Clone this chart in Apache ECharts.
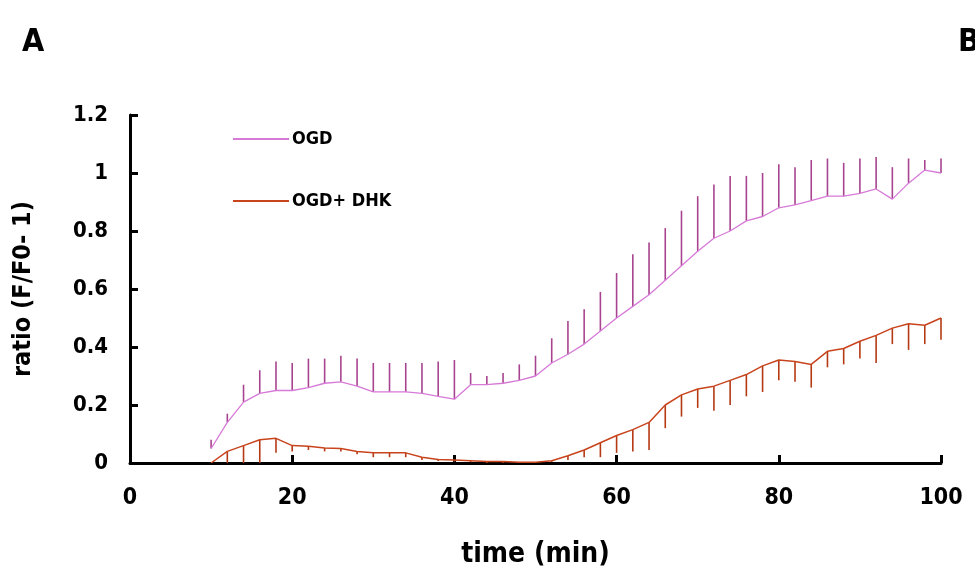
<!DOCTYPE html>
<html>
<head>
<meta charset="utf-8">
<script src="https://cdn.jsdelivr.net/npm/echarts@6/dist/echarts.min.js"></script>
<style>
html, body { margin: 0; padding: 0; background: #fff; }
#chartmain { width: 975px; height: 572px; }
</style>
</head>
<body>
<div id="chartmain"></div>
<script>
// time points (min)
var times = [10, 12, 14, 16, 18, 20, 22, 24, 26, 28, 30, 32, 34, 36, 38, 40, 42, 44, 46, 48, 50, 52, 54,
    56, 58, 60, 62, 64, 66, 68, 70, 72, 74, 76, 78, 80, 82, 84, 86, 88, 90, 92, 94, 96, 98, 100];
var ogdMean = [0.05, 0.14, 0.21, 0.24, 0.25, 0.25, 0.26, 0.275, 0.28, 0.265, 0.245, 0.245, 0.245, 0.24, 0.23, 0.22,
    0.27, 0.27, 0.275, 0.285, 0.30, 0.345, 0.375, 0.41, 0.455, 0.50, 0.54, 0.58, 0.63, 0.68, 0.73, 0.775, 0.80,
    0.835, 0.85, 0.88, 0.89, 0.905, 0.92, 0.92, 0.93, 0.945, 0.91, 0.965, 1.01, 1.0];
var ogdErr = [0.03, 0.03, 0.06, 0.08, 0.10, 0.095, 0.10, 0.085, 0.09, 0.095, 0.10, 0.10, 0.10, 0.105, 0.12, 0.135,
    0.04, 0.03, 0.035, 0.055, 0.07, 0.085, 0.115, 0.12, 0.135, 0.155, 0.18, 0.18, 0.18, 0.19, 0.19, 0.185, 0.19,
    0.155, 0.15, 0.15, 0.13, 0.14, 0.13, 0.115, 0.12, 0.11, 0.11, 0.085, 0.035, 0.05];
var dhkMean = [0.0, 0.04, 0.06, 0.08, 0.085, 0.06, 0.058, 0.052, 0.05, 0.04, 0.035, 0.035, 0.035, 0.02, 0.012, 0.01,
    0.008, 0.005, 0.005, 0.003, 0.003, 0.008, 0.025, 0.045, 0.07, 0.095, 0.115, 0.14, 0.2, 0.235, 0.255, 0.265,
    0.285, 0.305, 0.335, 0.355, 0.35, 0.34, 0.385, 0.395, 0.42, 0.44, 0.465, 0.48, 0.475, 0.50];
var dhkErr = [0.0, 0.04, 0.06, 0.08, 0.05, 0.02, 0.013, 0.012, 0.01, 0.01, 0.015, 0.015, 0.015, 0.01, 0.005, 0.005,
    0.005, 0.005, 0.005, 0.003, 0.003, 0.005, 0.015, 0.025, 0.05, 0.06, 0.075, 0.095, 0.08, 0.075, 0.065, 0.085,
    0.085, 0.075, 0.09, 0.07, 0.07, 0.08, 0.055, 0.055, 0.06, 0.095, 0.055, 0.09, 0.065, 0.075];
var xTicks = [0, 20, 40, 60, 80, 100];
var yTicks = [0, 0.2, 0.4, 0.6, 0.8, 1, 1.2];

var ogdColor = '#d77ad7', ogdBarColor = '#a8448f';
var dhkColor = '#c8441c', dhkBarColor = '#b53a14';
var font = '"DejaVu Sans Condensed", "DejaVu Sans", sans-serif';

function pairs(xs, ys) {
    var out = [];
    for (var i = 0; i < xs.length; i++) out.push([xs[i], ys[i]]);
    return out;
}
function errRows(xs, m, e, sign) {
    var out = [];
    for (var i = 0; i < xs.length; i++) out.push([xs[i], m[i], m[i] + sign * e[i]]);
    return out;
}
function errBar(color) {
    return function (params, api) {
        var p0 = api.coord([api.value(0), api.value(1)]);
        var p1 = api.coord([api.value(0), api.value(2)]);
        return {
            type: 'line',
            shape: { x1: p0[0], y1: p0[1], x2: p1[0], y2: p1[1] },
            style: { stroke: color, lineWidth: 1.6 }
        };
    };
}

var chart = echarts.init(document.getElementById('chartmain'), null, { renderer: 'canvas' });
chart.setOption({
    animation: false,
    backgroundColor: '#fff',
    grid: { left: 130, top: 115, width: 811, height: 348, outerBoundsMode: 'none', containLabel: false },
    title: [
        { text: 'A', left: 17, top: 22, textStyle: { fontFamily: font, fontWeight: 'bold', fontSize: 32, color: '#000' } },
        { text: 'B', left: 953, top: 22, textStyle: { fontFamily: font, fontWeight: 'bold', fontSize: 32, color: '#000' } }
    ],
    legend: {
        orient: 'vertical', left: 228, top: 125, itemGap: 44,
        itemWidth: 56, itemHeight: 2, icon: 'rect',
        data: ['OGD', 'OGD+ DHK'],
        textStyle: { fontFamily: font, fontWeight: 'bold', fontSize: 18, color: '#000', padding: [0, 0, 0, -2] }
    },
    xAxis: {
        type: 'value', min: 0, max: 100, interval: 20,
        name: 'time (min)', nameLocation: 'middle', nameGap: 78,
        nameTextStyle: { fontFamily: font, fontWeight: 'bold', fontSize: 28, color: '#000' },
        axisLine: { lineStyle: { color: '#000', width: 3 } },
        axisTick: { inside: true, length: 8, lineStyle: { color: '#000', width: 3 } },
        axisLabel: { margin: 24, fontFamily: font, fontWeight: 'bold', fontSize: 23, color: '#000',
            formatter: function (v) { return xTicks.indexOf(v) >= 0 ? String(v) : ''; } },
        splitLine: { show: false }
    },
    yAxis: {
        type: 'value', min: 0, max: 1.2, interval: 0.2,
        name: 'ratio (F/F0- 1)', nameLocation: 'middle', nameGap: 94, nameRotate: 90,
        nameTextStyle: { fontFamily: font, fontWeight: 'bold', fontSize: 25, color: '#000' },
        axisLine: { show: true, lineStyle: { color: '#000', width: 3 } },
        axisTick: { show: true, inside: true, length: 8, lineStyle: { color: '#000', width: 3 } },
        axisLabel: { margin: 22, fontFamily: font, fontWeight: 'bold', fontSize: 22, color: '#000',
            formatter: function (v) {
                for (var i = 0; i < yTicks.length; i++) if (Math.abs(yTicks[i] - v) < 1e-6) return String(yTicks[i]);
                return '';
            } },
        splitLine: { show: false }
    },
    series: [
        { name: 'OGD', type: 'line', data: pairs(times, ogdMean), showSymbol: false,
          lineStyle: { color: ogdColor, width: 1.3 }, itemStyle: { color: ogdColor }, z: 3 },
        { name: 'OGD+ DHK', type: 'line', data: pairs(times, dhkMean), showSymbol: false,
          lineStyle: { color: dhkColor, width: 1.5 }, itemStyle: { color: dhkColor }, z: 3 },
        { name: 'OGD err', type: 'custom', renderItem: errBar(ogdBarColor),
          data: errRows(times, ogdMean, ogdErr, 1), encode: { x: 0, y: [1, 2] }, z: 2 },
        { name: 'DHK err', type: 'custom', renderItem: errBar(dhkBarColor),
          data: errRows(times, dhkMean, dhkErr, -1), encode: { x: 0, y: [1, 2] }, z: 2 }
    ]
});
</script>
</body>
</html>
